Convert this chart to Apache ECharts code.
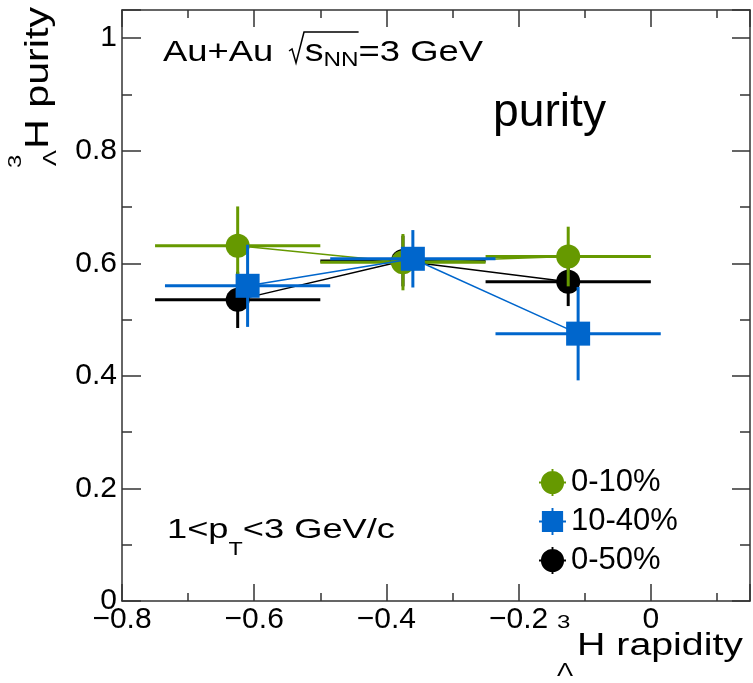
<!DOCTYPE html>
<html><head><meta charset="utf-8">
<script src="https://cdn.jsdelivr.net/npm/echarts@6/dist/echarts.min.js"></script>
<style>html,body{margin:0;padding:0;background:#fff}#c{width:753px;height:683px}</style>
</head><body><div id="c"></div>
<script>
const FONT = '"Liberation Sans", Arial, sans-serif';

// ---- data ----
const legendNames = ['0-10%', '10-40%', '0-50%'];
const green_x    = [-0.625, -0.375, -0.125];
const green_y    = [0.631, 0.602, 0.612];
const green_xerr = [0.125, 0.125, 0.125];
const green_yerr = [0.070, 0.050, 0.053];
const blue_x     = [-0.61, -0.36, -0.11];
const blue_y     = [0.560, 0.608, 0.475];
const blue_xerr  = [0.125, 0.125, 0.125];
const blue_yerr  = [0.073, 0.051, 0.083];
const black_x    = [-0.625, -0.375, -0.125];
const black_y    = [0.535, 0.604, 0.567];
const black_xerr = [0.125, 0.125, 0.125];
const black_yerr = [0.050, 0.045, 0.043];
const xMin = -0.8, xMax = 0.15, xMajor = 0.2, xMinor = 0.1;
const yMin = 0, yMax = 1.05, yMajor = 0.2, yMinor = 0.1;

const GREEN = '#669900', BLUE = '#0066cc', BLACK = '#000000';

function build(name, color, symbol, xs, ys, xe, ye, z) {
  const pts = xs.map((x, i) => [x, ys[i]]);
  const err = xs.map((x, i) => [x, ys[i], x - xe[i], x + xe[i], ys[i] - ye[i], ys[i] + ye[i]]);
  return [
    {type: 'line', name: name + ' line', data: pts, symbol: 'none', z: z, silent: true,
     lineStyle: {color: color, width: 1.5}},
    {type: 'custom', name: name + ' err', data: err, z: z, silent: true,
     encode: {x: [0, 2, 3], y: [1, 4, 5]},
     renderItem: function (params, api) {
       const c = api.coord([api.value(0), api.value(1)]);
       const l = api.coord([api.value(2), api.value(1)]);
       const r = api.coord([api.value(3), api.value(1)]);
       const b = api.coord([api.value(0), api.value(4)]);
       const t = api.coord([api.value(0), api.value(5)]);
       return {type: 'group', children: [
         {type: 'line', shape: {x1: l[0], y1: c[1], x2: r[0], y2: c[1]}, style: {stroke: color, lineWidth: 3}},
         {type: 'line', shape: {x1: c[0], y1: b[1], x2: c[0], y2: t[1]}, style: {stroke: color, lineWidth: 3}}
       ]};
     }},
    {type: 'scatter', name: name, data: pts, symbol: symbol, symbolSize: 24, z: z,
     itemStyle: {color: color, opacity: 1}}
  ];
}

// text helpers
const mctx = document.createElement('canvas').getContext('2d');
function tw(t, s) { mctx.font = s + 'px ' + FONT; return mctx.measureText(t).width; }
function tEl(x, base, t, s, sx) {
  return {type: 'text', x: x, y: base - 0.31 * s, scaleX: sx || 1,
    style: {text: t, fontSize: s, fontFamily: FONT, fill: '#000', textAlign: 'left', textVerticalAlign: 'middle'}};
}
function seq(x0, base, pieces, target) {
  const wOf = p => (p.gap != null ? p.gap : tw(p.t, p.s));
  const nat = pieces.reduce((a, p) => a + wOf(p), 0);
  const k = target / nat;
  const els = [], pos = [];
  let x = x0;
  pieces.forEach(p => {
    pos.push(x);
    if (p.t) els.push(tEl(x, base + (p.dy || 0), p.t, p.s, k));
    x += wOf(p) * k;
  });
  pos.push(x);
  return {els, pos, k};
}

const graphics = [];
// Au+Au sqrt(s_NN)=3 GeV
const B1 = 62;
const s1 = seq(163, B1, [
  {t: 'Au+Au', s: 30}, {gap: 13}, {gap: 13}, {t: 's', s: 31}, {t: 'NN', s: 20, dy: 5}, {t: '=3 GeV', s: 30}
], 320);
graphics.push(...s1.els);
const xr = s1.pos[2];
graphics.push({type: 'polyline', shape: {points: [[xr, B1 - 11], [xr + 3, B1 - 13], [xr + 7, B1 + 1], [xr + 15, B1 - 30], [s1.pos[5], B1 - 30]]},
  style: {stroke: '#000', lineWidth: 1.5, fill: null}});
// purity
graphics.push(...seq(493, 128, [{t: 'purity', s: 46}], 113).els);
// 1<pT<3 GeV/c
graphics.push(...seq(167, 539, [{t: '1<p', s: 28}, {t: 'T', s: 18, dy: 17}, {t: '<3 GeV/c', s: 28}], 228).els);
// x-axis title
const xt = seq(577, 656, [{t: 'H rapidity', s: 31}], 166);
graphics.push(tEl(557, 629, '3', 19, xt.k), tEl(557, 677, 'Λ', 19, xt.k), ...xt.els);
// y-axis title (rotated)
const yt = seq(19, 0, [{t: 'H purity', s: 33}], 142);
graphics.push({type: 'group', x: 49, y: 168, rotation: Math.PI / 2,
  children: [tEl(0, -27, '3', 19, yt.k), tEl(2, 8, 'Λ', 19, yt.k), ...yt.els]});

const AX = '#333';
function xa(interval, pos, len, line, labels) {
  return {type: 'value', min: xMin, max: xMax, interval: interval, position: pos,
    axisLine: {show: line, onZero: false, lineStyle: {color: AX, width: 1.5}},
    axisTick: {show: true, inside: true, length: len, lineStyle: {color: AX, width: 1.5}},
    axisLabel: labels ? {show: true, fontSize: 30, fontFamily: FONT, color: '#000', margin: 4,
      formatter: v => (Math.abs(v - xMax) < 1e-9 ? '' : (Math.abs(v) < 1e-9 ? '0' : (v < 0 ? '\u2212' + Math.abs(v).toFixed(1) : v.toFixed(1))))} : {show: false},
    splitLine: {show: false}};
}
function ya(interval, pos, len, line, labels) {
  return {type: 'value', min: yMin, max: yMax, interval: interval, position: pos,
    axisLine: {show: line, onZero: false, lineStyle: {color: AX, width: 1.5}},
    axisTick: {show: true, inside: true, length: len, lineStyle: {color: AX, width: 1.5}},
    axisLabel: labels ? {show: true, fontSize: 30, fontFamily: FONT, color: '#000', margin: 5,
      formatter: v => (v > 1.001 ? '' : (Math.abs(v) < 1e-9 ? '0' : (Math.abs(v - 1) < 1e-9 ? '1' : v.toFixed(1))))} : {show: false},
    splitLine: {show: false}};
}

const CIRC = 'path://M14,2 A12,12 0 1,1 13.99,2 Z M0,13 L28,13 L28,15 L0,15 Z M13,0 L15,0 L15,28 L13,28 Z';
const RECT = 'path://M3,3 L25,3 L25,25 L3,25 Z M0,13 L28,13 L28,15 L0,15 Z M13,0 L15,0 L15,28 L13,28 Z';

const chart = echarts.init(document.getElementById('c'), null, {renderer: 'canvas'});
chart.setOption({
  animation: false,
  backgroundColor: '#fff',
  grid: {left: 122, right: 2, top: 10, bottom: 82, containLabel: false},
  xAxis: [xa(xMajor, 'bottom', 17, true, true), xa(xMinor, 'bottom', 8, false, false),
          xa(xMajor, 'top', 17, true, false), xa(xMinor, 'top', 8, false, false)],
  yAxis: [ya(yMajor, 'left', 19, true, true), ya(yMinor, 'left', 10, false, false),
          ya(yMajor, 'right', 18, true, false), ya(yMinor, 'right', 10, false, false)],
  legend: {orient: 'vertical', left: 534, top: 462, itemWidth: 27, itemHeight: 27, itemGap: 8,
    selectedMode: false, textStyle: {fontSize: 31, fontFamily: FONT, color: '#000'},
    data: [{name: legendNames[0], icon: CIRC}, {name: legendNames[1], icon: RECT}, {name: legendNames[2], icon: CIRC}]},
  graphic: graphics,
  series: [
    ...build(legendNames[2], BLACK, 'circle', black_x, black_y, black_xerr, black_yerr, 2),
    ...build(legendNames[0], GREEN, 'circle', green_x, green_y, green_xerr, green_yerr, 3),
    ...build(legendNames[1], BLUE, 'rect', blue_x, blue_y, blue_xerr, blue_yerr, 4)
  ]
});
</script></body></html>
